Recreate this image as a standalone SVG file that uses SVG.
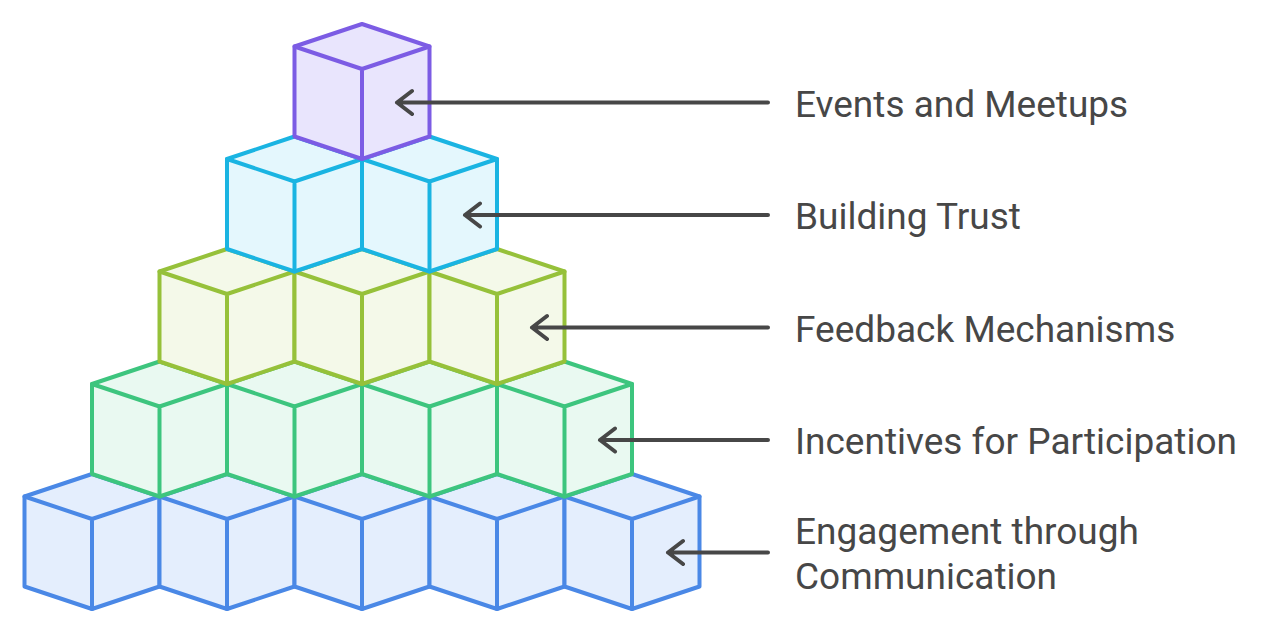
<svg xmlns="http://www.w3.org/2000/svg" xmlns:xlink="http://www.w3.org/1999/xlink" width="1285" height="634" viewBox="0 0 1285 634">
  <style>
    .lbl { font-family: Roboto, "Liberation Sans", sans-serif; font-size: 37px; fill: #474747; }
    .arr { fill: none; stroke: #474747; stroke-width: 4; stroke-linecap: round; stroke-linejoin: round; }
    .cube { stroke-width: 4; stroke-linejoin: round; stroke-linecap: round; }
    .t1 { fill: #E9E5FD; stroke: #7C5CE4; }
    .t2 { fill: #E4F7FD; stroke: #1AB4E2; }
    .t3 { fill: #F4F9E9; stroke: #96C13A; }
    .t4 { fill: #E9F9F1; stroke: #3DC57E; }
    .t5 { fill: #E4EEFD; stroke: #4A88E6; }
  </style>
  <defs>
    <g id="cube">
      <path d="M0,0 L67.5,22.5 L67.5,112.5 L0,135 L-67.5,112.5 L-67.5,22.5 Z"/>
      <path d="M-67.5,22.5 L0,45 L67.5,22.5 M0,45 L0,135" fill="none"/>
    </g>
  </defs>
  <rect width="1285" height="634" fill="#FFFFFF"/>

  <g id="tier5-engagement" class="cube t5">
    <use xlink:href="#cube" href="#cube" x="92" y="474"/>
    <use xlink:href="#cube" href="#cube" x="227" y="474"/>
    <use xlink:href="#cube" href="#cube" x="362" y="474"/>
    <use xlink:href="#cube" href="#cube" x="497" y="474"/>
    <use xlink:href="#cube" href="#cube" x="632" y="474"/>
  </g>
  <g id="tier4-incentives" class="cube t4">
    <use xlink:href="#cube" href="#cube" x="159.5" y="361.5"/>
    <use xlink:href="#cube" href="#cube" x="294.5" y="361.5"/>
    <use xlink:href="#cube" href="#cube" x="429.5" y="361.5"/>
    <use xlink:href="#cube" href="#cube" x="564.5" y="361.5"/>
  </g>
  <g id="tier3-feedback" class="cube t3">
    <use xlink:href="#cube" href="#cube" x="227" y="249"/>
    <use xlink:href="#cube" href="#cube" x="362" y="249"/>
    <use xlink:href="#cube" href="#cube" x="497" y="249"/>
  </g>
  <g id="tier2-trust" class="cube t2">
    <use xlink:href="#cube" href="#cube" x="294.5" y="136.5"/>
    <use xlink:href="#cube" href="#cube" x="429.5" y="136.5"/>
  </g>
  <g id="tier1-events" class="cube t1">
    <use xlink:href="#cube" href="#cube" x="362" y="24"/>
  </g>

  <g id="connectors" class="arr">
    <path d="M768,102.5 L397,102.5 M412,91 L397,102.5 L412,114"/>
    <path d="M768,215 L465,215 M480,203.5 L465,215 L480,226.5"/>
    <path d="M768,327.5 L532,327.5 M547,316 L532,327.5 L547,339"/>
    <path d="M768,440 L600,440 M615,428.5 L600,440 L615,451.5"/>
    <path d="M768,552.5 L668,552.5 M683,541 L668,552.5 L683,564"/>
  </g>

  <g id="labels">
    <text id="label-events" class="lbl" x="795" y="116.5">Events and Meetups</text>
    <text id="label-trust" class="lbl" x="795" y="229">Building Trust</text>
    <text id="label-feedback" class="lbl" x="795" y="341.5">Feedback Mechanisms</text>
    <text id="label-incentives" class="lbl" x="795" y="454">Incentives for Participation</text>
    <text id="label-engagement" class="lbl" x="795" y="544"><tspan x="795">Engagement through</tspan><tspan x="795" y="588.5">Communication</tspan></text>
  </g>
</svg>
